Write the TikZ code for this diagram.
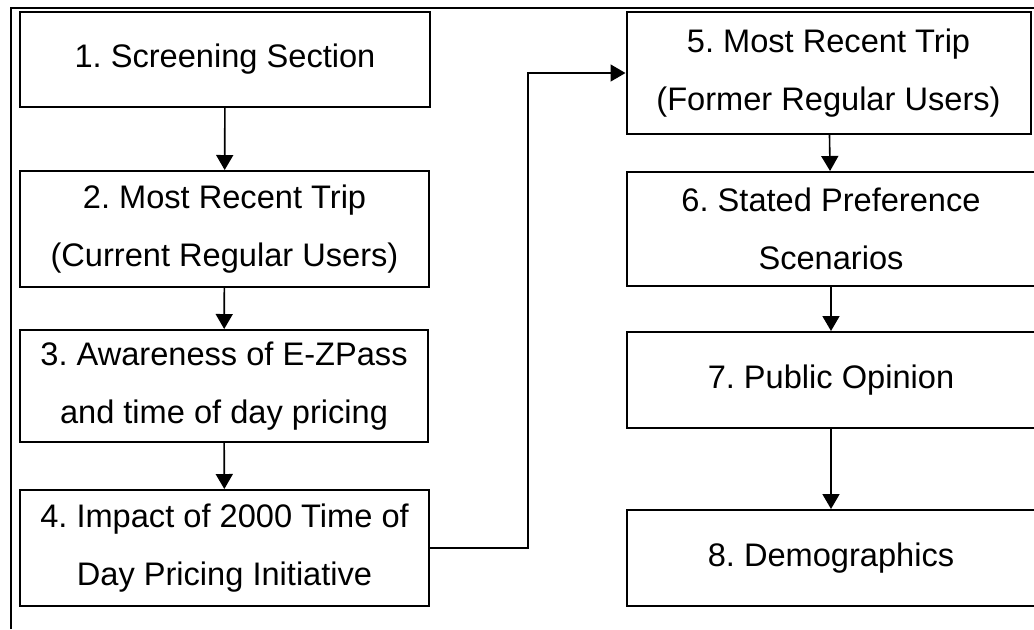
\documentclass[tikz,border=0pt]{standalone}
\usepackage{fontspec}
\setmainfont{Liberation Sans}
\usepackage{tikz}
\usetikzlibrary{arrows.meta}
\frenchspacing
\tikzstyle{process} = [rectangle, draw, line width=1pt, text centered, align=center, inner sep=0pt, font=\fontsize{16.3}{29}\selectfont]
\tikzstyle{connector} = [draw, line width=0.8pt, -{Triangle[length=7.5pt, width=8.5pt]}]
\tikzstyle{frame} = [draw, line width=1.3pt]

\begin{document}
\begin{tikzpicture}[x=0.5pt, y=-0.5pt]
        \useasboundingbox (0,0) rectangle (1034,629);
        \clip (0,0) rectangle (1034,629);
        % outer frame (only top and left visible)
        \coordinate (frameL) at (11,629);
        \coordinate (frameC) at (11,8);
        \coordinate (frameR) at (1040,8);
        \path [frame] (frameL) -- (frameC) -- (frameR);

        \node [process, minimum width=205pt, minimum height=47.5pt] at (225,59.5) (screen)
        {1. Screening Section};
        \node [process, minimum width=204.5pt, minimum height=58pt] at (224.5,229) (current)
        {2. Most Recent Trip\\(Current Regular Users)};
        \node [process, minimum width=204pt, minimum height=56pt] at (224,386) (aware)
        {3. Awareness of E-ZPass\\and time of day pricing};
        \node [process, minimum width=204.5pt, minimum height=58pt] at (224.5,548) (impact)
        {4. Impact of 2000 Time of\\Day Pricing Initiative};
        \node [process, minimum width=202pt, minimum height=61pt] at (828.5,73) (former)
        {5. Most Recent Trip\\(Former Regular Users)};
        \node [process, minimum width=204pt, minimum height=57pt] at (831,229) (stated)
        {6. Stated Preference\\Scenarios};
        \node [process, minimum width=204pt, minimum height=48pt] at (831,380) (opinion)
        {7. Public Opinion};
        \node [process, minimum width=204pt, minimum height=48pt] at (831,558) (demo)
        {8. Demographics};

        \coordinate (jog) at (528,300);

        \path [connector] (screen) -- (current);
        \path [connector] (current) -- (aware);
        \path [connector] (aware) -- (impact);
        \path [connector] (impact.east) -| (jog) |- (former.west);
        \path [connector] (former) -- (stated);
        \path [connector] (stated) -- (opinion);
        \path [connector] (opinion) -- (demo);
    \end{tikzpicture}
\end{document}
